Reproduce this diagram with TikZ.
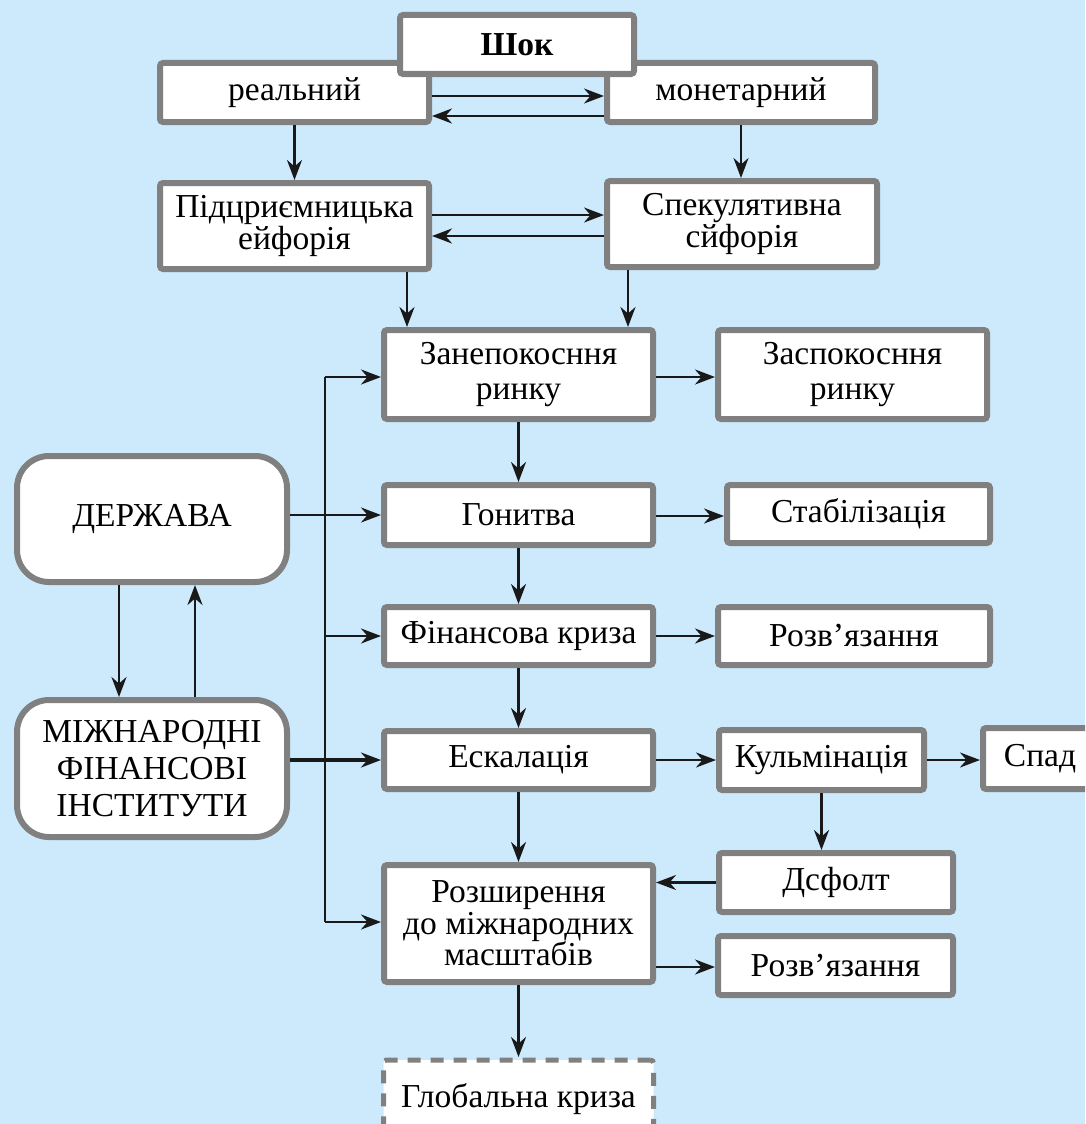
\documentclass[tikz,border=0pt]{standalone}
\usepackage{fontspec}
\setmainfont{Liberation Serif}
\usetikzlibrary{arrows.meta}
\definecolor{bg}{RGB}{205,234,252}
\definecolor{bord}{RGB}{128,128,128}
\begin{document}
\begin{tikzpicture}[x=1pt,y=-1pt,
  box/.style={draw=bord, line width=6pt, fill=white, rounded corners=3pt,
    align=center, inner sep=0pt, outer sep=3pt,
    font=\fontsize{33.5}{29}\selectfont},
  rbox/.style={box, rounded corners=32pt},
  dbox/.style={box, line width=5pt, dash pattern=on 13pt off 10pt},
  arr/.style={-{Stealth[length=20pt,width=15pt]}, line width=2.6pt, black!90},
  ln/.style={line width=2.6pt, black!90}]
\useasboundingbox (0,0) rectangle (1085,1124);
\clip (0,0) rectangle (1085,1124);
\fill[bg] (0,0) rectangle (1085,1124);

% top boxes
\node[box, minimum width=269pt, minimum height=59pt] (real) at (294.5,92.5) {реальний};
\node[box, minimum width=268pt, minimum height=59pt] (mon) at (741,92.5) {монетарний};
\node[box, minimum width=234pt, minimum height=59pt, font=\fontsize{33.5}{29}\selectfont\bfseries] (shok) at (517,44.5) {Шок};
\node[box, minimum width=269pt, minimum height=86pt] (pidp) at (294.5,226) {Підцриємницька\\ейфорія};
\node[box, minimum width=270pt, minimum height=86pt] (spek) at (742,224) {Спекулятивна\\сйфорія};

% main column
\node[box, minimum width=269pt, minimum height=89pt, font=\fontsize{33.5}{35}\selectfont] (zanep) at (518.5,374.5) {Занепокосння\\ринку};
\node[box, minimum width=269pt, minimum height=89pt, font=\fontsize{33.5}{35}\selectfont] (zaspok) at (852.5,374.5) {Заспокосння\\ринку};
\node[box, minimum width=269pt, minimum height=60pt] (gon) at (518.5,515) {Гонитва};
\node[box, minimum width=263pt, minimum height=58pt] (stab) at (858.5,514) {Стабілізація};
\node[box, minimum width=269pt, minimum height=58pt] (fin) at (518.5,636) {Фінансова криза};
\node[box, minimum width=272pt, minimum height=58pt] (rozv1) at (854,636) {Розв’язання};
\node[box, minimum width=269pt, minimum height=58pt] (esk) at (518.5,760) {Ескалація};
\node[box, minimum width=205pt, minimum height=60pt] (kulm) at (821.5,760) {Кульмінація};
\node[box, minimum width=114pt, minimum height=61pt] (spad) at (1040,758.5) {Спад};
\node[box, minimum width=269pt, minimum height=117pt, font=\fontsize{33.5}{31.5}\selectfont] (rozsh) at (518.5,923.5) {Розширення\\до міжнародних\\масштабів};
\node[box, minimum width=234pt, minimum height=59pt] (defolt) at (836,882.5) {Дсфолт};
\node[box, minimum width=235pt, minimum height=59pt] (rozv2) at (835.5,965.5) {Розв’язання};
\node[dbox, minimum width=270pt, minimum height=80pt] (glob) at (518.5,1100) {\raisebox{10pt}{Глобальна криза}};

% left boxes
\node[rbox, minimum width=270pt, minimum height=126pt] (derzh) at (152,519) {ДЕРЖАВА};
\node[rbox, minimum width=270pt, minimum height=137pt, font=\fontsize{33.5}{37}\selectfont] (mizh) at (152,768.5) {МІЖНАРОДНІ\\ФІНАНСОВІ\\ІНСТИТУТИ};

% top connectors
\draw[arr] (real.east |- 0,96) -- (mon.west |- 0,96);
\draw[arr] (mon.west |- 0,116) -- (real.east |- 0,116);
\draw[arr] (real.south) -- (real.south |- pidp.north);
\draw[arr] (mon.south) -- (mon.south |- spek.north);
\draw[arr] (pidp.east |- 0,215) -- (spek.west |- 0,215);
\draw[arr] (spek.west |- 0,236) -- (pidp.east |- 0,236);
\draw[arr] (pidp.south -| 407,0) -- (zanep.north -| 407,0);
\draw[arr] (spek.south -| 628,0) -- (zanep.north -| 628,0);

% main column connectors
\draw[arr] (zanep.east |- 0,377) -- (zaspok.west |- 0,377);
\draw[arr] (zanep.south) -- (gon.north);
\draw[arr] (gon.east |- 0,516) -- (stab.west |- 0,516);
\draw[arr] (gon.south) -- (fin.north);
\draw[arr] (fin.east) -- (rozv1.west |- fin.east);
\draw[arr] (fin.south) -- (esk.north);
\draw[arr] (esk.east) -- (kulm.west |- esk.east);
\draw[arr] (kulm.east) -- (spad.west |- kulm.east);
\draw[arr] (esk.south) -- (rozsh.north);
\draw[arr] (kulm.south) -- (kulm.south |- defolt.north);
\draw[arr] (defolt.west) -- (rozsh.east |- defolt.west);
\draw[arr] (rozsh.east |- 0,967) -- (rozv2.west |- 0,967);
\draw[arr] (rozsh.south) -- (glob.north);

% left side
\draw[arr] (derzh.south -| 119,0) -- (mizh.north -| 119,0);
\draw[arr] (mizh.north -| 195,0) -- (derzh.south -| 195,0);
\coordinate (tTop) at (325,377);
\coordinate (tBot) at (325,922);
\draw[ln] (tTop) -- (tBot);
\draw[arr] (tTop) -- (zanep.west |- tTop);
\draw[arr] (tBot) -- (rozsh.west |- tBot);
\draw[arr] (tTop |- fin.west) -- (fin.west);
\draw[arr] (derzh.east |- 0,515) -- (gon.west |- 0,515);
\draw[arr, line width=3.2pt] (mizh.east |- 0,760) -- (esk.west |- 0,760);
\end{tikzpicture}
\end{document}
